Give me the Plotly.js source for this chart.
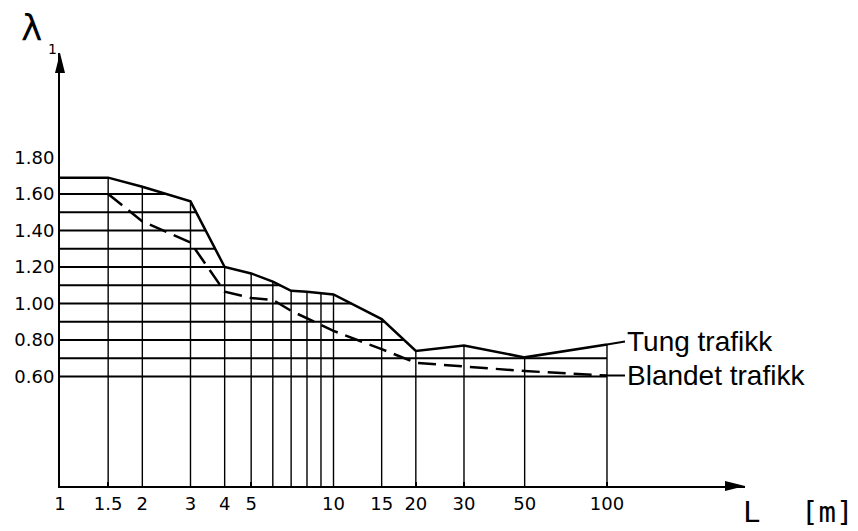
<!DOCTYPE html>
<html><head><meta charset="utf-8">
<script src="https://cdn.plot.ly/plotly-3.0.1.min.js"></script>
<style>html,body{margin:0;padding:0;background:#fff}</style>
</head><body><div id="chart" style="width:858px;height:531px"></div>
<script>
// ---- data ----
const lengths = [1, 1.5, 2, 3, 4, 5, 6, 7, 8, 9, 10, 15, 20, 30, 50, 100];
const tungTrafikk = [1.69, 1.69, 1.64, 1.56, 1.20, 1.165, 1.12, 1.07, 1.065, 1.055, 1.05, 0.915, 0.74, 0.77, 0.705, 0.775];
const blandetLengths = [1.5, 2, 3, 4, 5, 6, 7, 8, 9, 10, 15, 20, 30, 50, 100];
const blandetTrafikk = [1.60, 1.45, 1.335, 1.065, 1.03, 1.02, 0.96, 0.92, 0.885, 0.85, 0.75, 0.675, 0.655, 0.63, 0.605];
const gridLengths = [1.5, 2, 3, 4, 5, 6, 7, 8, 9, 10, 15, 20, 30, 50, 100];
const gridLevels = [0.6, 0.7, 0.8, 0.9, 1.0, 1.1, 1.2, 1.3, 1.4, 1.5, 1.6];
const xTickVals = [1, 1.5, 2, 3, 4, 5, 10, 15, 20, 30, 50, 100];
const xTickText = ['1', '1.5', '2', '3', '4', '5', '10', '15', '20', '30', '50', '100'];
const yTickVals = [0.6, 0.8, 1.0, 1.2, 1.4, 1.6, 1.8];
const yTickText = ['0.60', '0.80', '1.00', '1.20', '1.40', '1.60', '1.80'];
const labelTung = 'Tung trafikk';
const labelBlandet = 'Blandet trafikk';

// ---- helpers (curve is straight in log-x space) ----
const lg = Math.log10;
function solidAt(x) {
  for (let i = 0; i < lengths.length - 1; i++) {
    if (x >= lengths[i] && x <= lengths[i + 1]) {
      const t = (lg(x) - lg(lengths[i])) / (lg(lengths[i + 1]) - lg(lengths[i]));
      return tungTrafikk[i] + t * (tungTrafikk[i + 1] - tungTrafikk[i]);
    }
  }
  return tungTrafikk[tungTrafikk.length - 1];
}
function crossing(v) {
  for (let i = 0; i < lengths.length - 1; i++) {
    const a = tungTrafikk[i], b = tungTrafikk[i + 1];
    if (a >= v && b < v) {
      const t = (a - v) / (a - b);
      return Math.pow(10, lg(lengths[i]) + t * (lg(lengths[i + 1]) - lg(lengths[i])));
    }
  }
  return lengths[lengths.length - 1];
}

const hx = [], hy = [];
gridLevels.forEach(v => { hx.push(lengths[0], crossing(v), null); hy.push(v, v, null); });
const vx = [], vy = [];
gridLengths.forEach(x => { vx.push(x, x, null); vy.push(0, solidAt(x), null); });

const traces = [
  {x: hx, y: hy, mode: 'lines', line: {color: '#000', width: 2}, cliponaxis: false, hoverinfo: 'skip'},
  {x: vx, y: vy, mode: 'lines', line: {color: '#000', width: 1.4}, cliponaxis: false, hoverinfo: 'skip'},
  {x: lengths, y: tungTrafikk, name: labelTung, mode: 'lines', line: {color: '#000', width: 2.5}, cliponaxis: false},
  {x: blandetLengths, y: blandetTrafikk, name: labelBlandet, mode: 'lines', line: {color: '#000', width: 2.5, dash: '18px,8px'}, cliponaxis: false}
];

const tickFont = {family: 'DejaVu Sans', size: 18, color: '#000'};
const layout = {
  width: 858, height: 531, autosize: false,
  paper_bgcolor: '#fff', plot_bgcolor: '#fff',
  margin: {l: 60, r: 113, t: 53, b: 45, pad: 0},
  showlegend: false,
  xaxis: {
    type: 'log', range: [0, 2.5046], showgrid: false, zeroline: false,
    showline: true, linecolor: '#000', linewidth: 2,
    tickvals: xTickVals, ticktext: xTickText, ticks: 'inside', ticklen: 4, tickwidth: 1.5, tickcolor: '#000',
    tickfont: tickFont, ticklabelstandoff: 0
  },
  yaxis: {
    range: [0, 2.373], showgrid: false, zeroline: false,
    showline: true, linecolor: '#000', linewidth: 2,
    tickvals: yTickVals, ticktext: yTickText, ticks: '', tickfont: tickFont, ticklabelstandoff: 0
  },
  shapes: [
    {type: 'path', xref: 'paper', yref: 'paper', xsizemode: 'pixel', ysizemode: 'pixel',
     xanchor: 1, yanchor: 0, path: 'M0,0 L-20,5 L-20,-5 Z', fillcolor: '#000', line: {width: 0}},
    {type: 'path', xref: 'paper', yref: 'paper', xsizemode: 'pixel', ysizemode: 'pixel',
     xanchor: 0, yanchor: 1, path: 'M0,0 L-5,-20 L5,-20 Z', fillcolor: '#000', line: {width: 0}}
  ],
  annotations: [
    {xref: 'paper', yref: 'paper', x: -0.041, y: 1.06, text: 'λ', showarrow: false,
     font: {family: 'DejaVu Sans', size: 36, color: '#000'}, xanchor: 'center', yanchor: 'middle'},
    {xref: 'paper', yref: 'paper', x: -0.011, y: 1.01, text: '1', showarrow: false,
     font: {family: 'DejaVu Sans', size: 14, color: '#000'}, xanchor: 'center', yanchor: 'middle'},
    {xref: 'paper', yref: 'paper', x: 0.994, y: -0.1035, text: 'L', showarrow: false,
     font: {family: 'DejaVu Sans Mono', size: 29, color: '#000'}, xanchor: 'left', yanchor: 'bottom'},
    {xref: 'paper', yref: 'paper', x: 1.16, y: -0.1035, text: '[m]', showarrow: false,
     font: {family: 'DejaVu Sans Mono', size: 29, color: '#000'}, xanchor: 'right', yanchor: 'bottom'},
    {x: lg(100), y: tungTrafikk[tungTrafikk.length - 1], text: labelTung, showarrow: true, arrowhead: 0,
     arrowwidth: 2, arrowcolor: '#000', ax: 18, ay: -3, xanchor: 'left', yanchor: 'middle',
     font: {family: 'Liberation Sans', size: 28, color: '#000'}},
    {x: lg(100), y: blandetTrafikk[blandetTrafikk.length - 1], text: labelBlandet, showarrow: true, arrowhead: 0,
     arrowwidth: 2, arrowcolor: '#000', ax: 18, ay: 0, xanchor: 'left', yanchor: 'middle',
     font: {family: 'Liberation Sans', size: 28, color: '#000'}}
  ]
};
Plotly.newPlot('chart', traces, layout, {displayModeBar: false, staticPlot: true});
</script>
</body></html>
